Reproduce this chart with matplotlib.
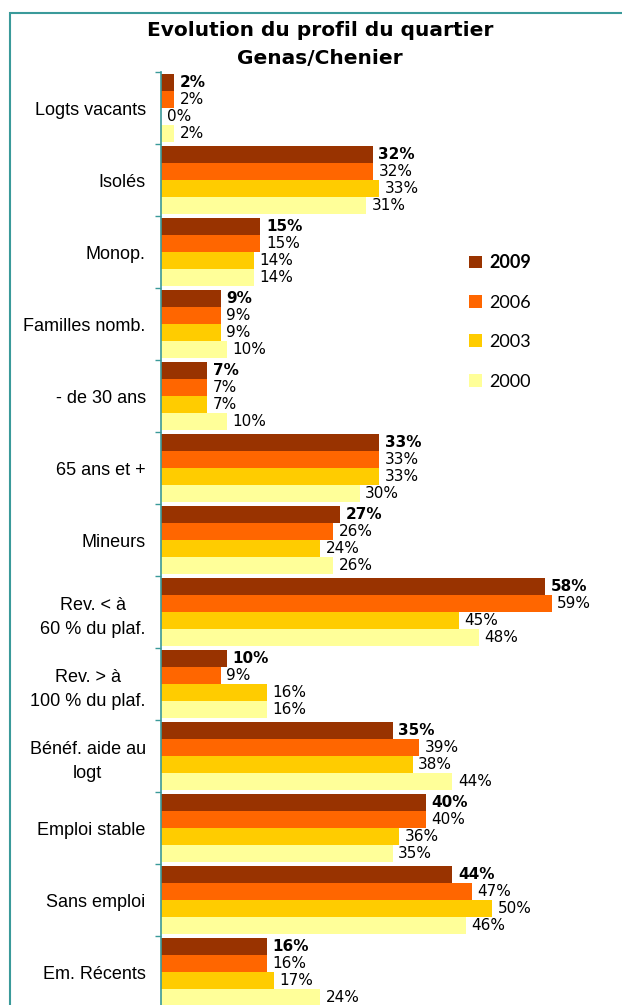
import numpy as np
import matplotlib
matplotlib.use('Agg')
import matplotlib.pyplot as plt
from matplotlib.patches import Rectangle

# Donnees du graphique (en %)
categories = ['Logts vacants', 'Isolés', 'Monop.', 'Familles nomb.', '- de 30 ans',
              '65 ans et +', 'Mineurs', 'Rev. < à\n60 % du plaf.', 'Rev. > à\n100 % du plaf.',
              'Bénéf. aide au\nlogt', 'Emploi stable', 'Sans emploi', 'Em. Récents']
annees = ['2009', '2006', '2003', '2000']
v2009 = [2, 32, 15, 9, 7, 33, 27, 58, 10, 35, 40, 44, 16]
v2006 = [2, 32, 15, 9, 7, 33, 26, 59, 9, 39, 40, 47, 16]
v2003 = [0, 33, 14, 9, 7, 33, 24, 45, 16, 38, 36, 50, 17]
v2000 = [2, 31, 14, 10, 10, 30, 26, 48, 16, 44, 35, 46, 24]

couleurs = ['#993300', '#FF6600', '#FFCC00', '#FFFF99']
teal = '#3A9A9A'

fig = plt.figure(figsize=(6.22, 10.05), dpi=100)
W, H = 622, 1005

# cadre du graphique (coupe a droite et en bas)
cadre = Rectangle((10 / W, -0.05), 1.2, 1.05 - 13 / H, transform=fig.transFigure,
                  fill=False, edgecolor=teal, linewidth=1.5, clip_on=False)
fig.add_artist(cadre)

ax = fig.add_axes([161 / W, -3 / H, 470 / W, 936 / H])

y = np.arange(len(categories))
h = 0.233
series = [v2009, v2006, v2003, v2000]
for k, (vals, c, an) in enumerate(zip(series, couleurs, annees)):
    bars = ax.barh(y + (k - 1.5) * h, vals, height=h, color=c, label=an, linewidth=0)
    ax.bar_label(bars, labels=['%d%%' % v for v in vals], padding=4, fontsize=11,
                 family='DejaVu Sans', fontweight='bold' if k == 0 else 'normal')

ax.set_xlim(0, 71)
ax.set_ylim(len(categories) - 0.5, -0.5)

ax.set_yticks(y)
ax.set_yticklabels(categories, fontsize=13, family='Liberation Sans',
                   multialignment='center', linespacing=1.55)
ax.set_yticks(np.arange(-0.5, len(categories), 1), minor=True)
ax.tick_params(axis='y', which='major', length=0, pad=11)
ax.tick_params(axis='y', which='minor', length=4, width=1, color=teal, direction='out')
ax.set_xticks([])
for s in ['top', 'right', 'bottom']:
    ax.spines[s].set_visible(False)
ax.spines['left'].set_color(teal)
ax.spines['left'].set_linewidth(1.2)
ax.patch.set_alpha(0)

fig.text(320 / W, 1 - 31 / H, 'Evolution du profil du quartier', ha='center', va='center',
         fontsize=14.5, fontweight='bold', family='DejaVu Sans')
fig.text(320 / W, 1 - 58 / H, 'Genas/Chenier', ha='center', va='center',
         fontsize=14.5, fontweight='bold', family='DejaVu Sans')

leg = fig.legend(loc='upper left', bbox_to_anchor=(453 / W, 1 - 238 / H), frameon=False,
                 handlelength=0.72, handleheight=0.72, handletextpad=0.4,
                 labelspacing=1.3, prop={'family': 'Lato', 'size': 13})
leg.get_texts()[0].set_fontweight('bold')

fig.savefig('out.png', dpi=100)
